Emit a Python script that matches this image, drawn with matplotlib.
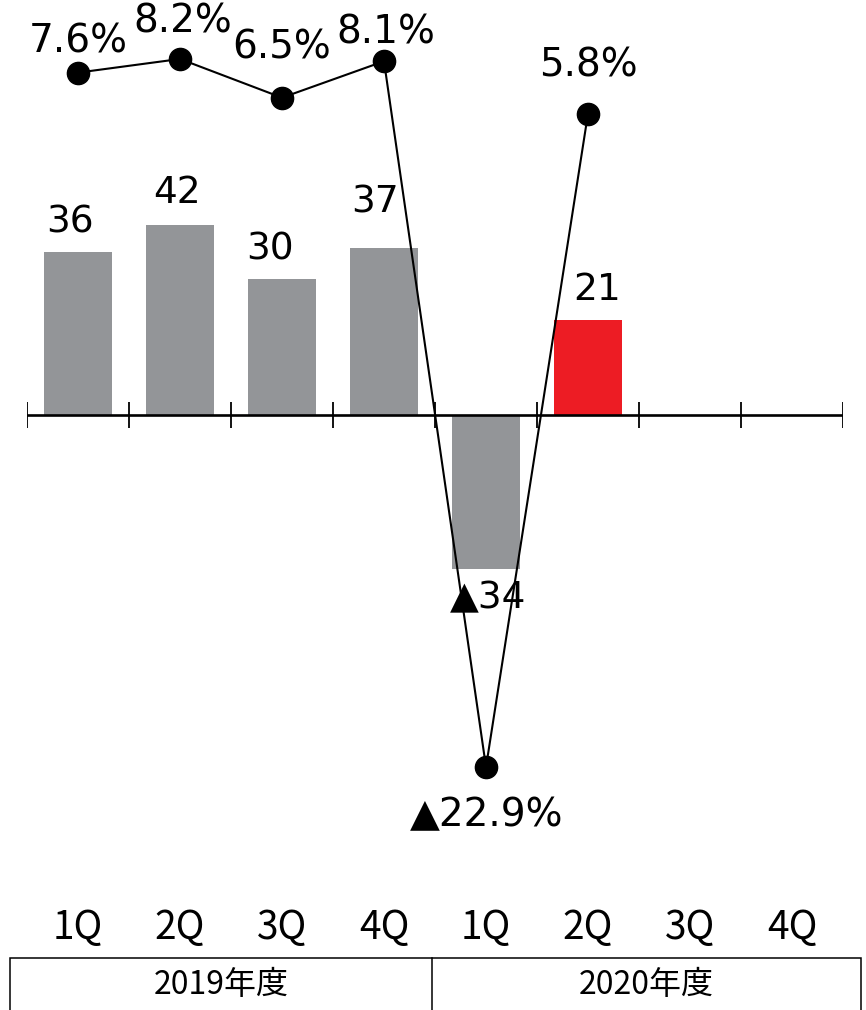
import matplotlib
matplotlib.use("Agg")
import matplotlib.pyplot as plt
from matplotlib.patches import Rectangle
from matplotlib.lines import Line2D

quarters = ['1Q', '2Q', '3Q', '4Q', '1Q', '2Q', '3Q', '4Q']
years = ['2019年度', '2020年度']
profit = [36, 42, 30, 37, -34, 21]
margin = [7.6, 8.2, 6.5, 8.1, -22.9, 5.8]

bar_colors = ['#939598'] * 5 + ['#ED1C24']
# label offsets in pixels (layout only)
bar_lab_off = [(-8, 30), (-3, 32), (-12, 30), (-9, 45), (2, -30), (9, 30)]
pct_lab_off = [(0, 31), (3, 37), (0, 50), (2, 29), (1, -48), (0, 48)]

W, H = 866, 1010
fig = plt.figure(figsize=(W / 100, H / 100), dpi=100)
ax = fig.add_axes([27 / W, 1 - 870 / H, 816 / W, 870 / H])
ax2 = ax.twinx()

x = list(range(len(profit)))
ax.bar(x, profit, width=0.667, color=bar_colors, zorder=2)
ax.set_xlim(-0.5, 7.5)
ax.set_ylim(-100.66, 91.8)
ax2.set_ylim(-27.42, 10.79)

for a in (ax, ax2):
    for s in a.spines.values():
        s.set_visible(False)
    a.set_yticks([])
ax.set_xticks([])

ax.axhline(0, color='black', lw=1.9, zorder=3)
ax.vlines([i - 0.5 for i in range(9)], -2.8, 2.8, color='black', lw=1.3, zorder=3)

ax2.plot(x, margin, color='black', lw=1.5, marker='o', ms=16, zorder=5)

font = ['DejaVu Sans']
for i, v in enumerate(profit):
    txt = str(v) if v >= 0 else '▲' + str(-v)
    ax.annotate(txt, (i, v), xytext=bar_lab_off[i], textcoords='offset pixels',
                ha='center', va='center', fontsize=27, family=font, zorder=6)

for i, v in enumerate(margin):
    txt = f'{v:.1f}%' if v >= 0 else f'▲{-v:.1f}%'
    ax2.annotate(txt, (i, v), xytext=pct_lab_off[i], textcoords='offset pixels',
                 ha='center', va='center', fontsize=28, family=font, zorder=6)

cjk = ['Noto Sans CJK JP', 'DejaVu Sans']
for i, q in enumerate(quarters):
    fig.text((27 + 102 * i + 51) / W, 1 - 928 / H, q, ha='center', va='center',
             fontsize=28, family=cjk)

fig.add_artist(Rectangle((10 / W, 1 - 1012 / H), 851 / W, 54 / H, transform=fig.transFigure,
                         fill=False, edgecolor='black', lw=1.1))
fig.add_artist(Line2D([432 / W, 432 / W], [1 - 958 / H, 0], transform=fig.transFigure,
                      color='black', lw=1.1))
fig.text(221 / W, 1 - 985 / H, years[0], ha='center', va='center', fontsize=23, family=cjk)
fig.text(646 / W, 1 - 985 / H, years[1], ha='center', va='center', fontsize=23, family=cjk)

fig.savefig('out.png', dpi=100)
